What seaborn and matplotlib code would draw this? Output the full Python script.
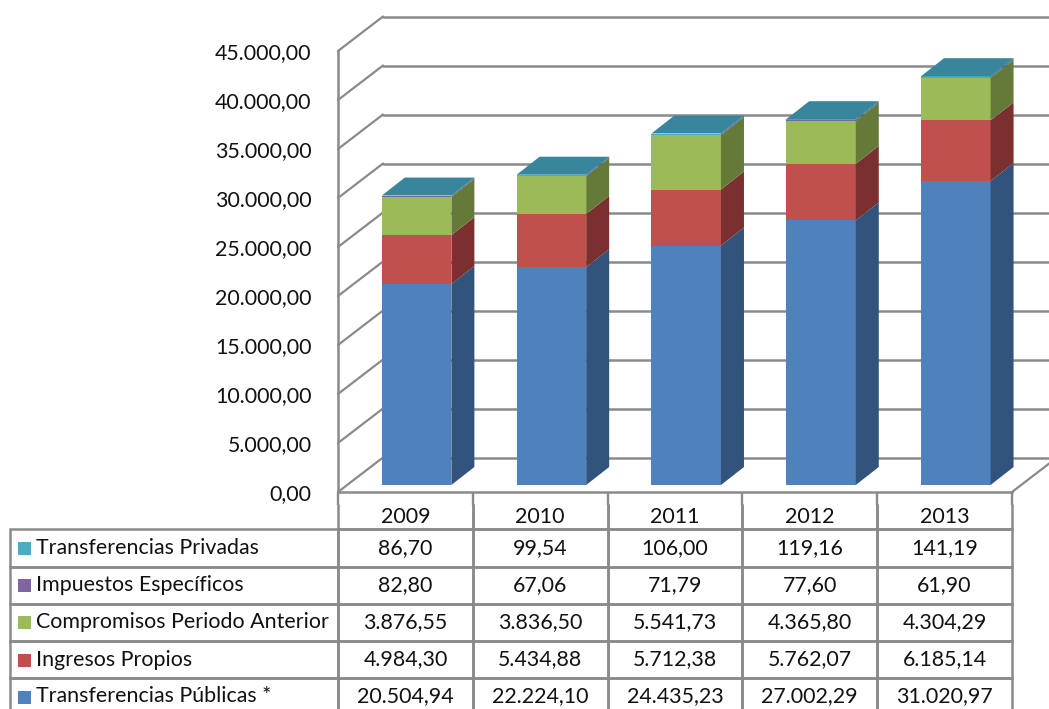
"""Ingresos por fuente 2009-2013: fake 3D stacked bars with a data table below."""
import matplotlib
matplotlib.use('Agg')
import matplotlib.pyplot as plt
import seaborn as sns
from matplotlib.patches import Polygon
from matplotlib.ticker import FuncFormatter
from matplotlib.transforms import Affine2D

years = ['2009', '2010', '2011', '2012', '2013']
publicas = [20504.94, 22224.10, 24435.23, 27002.29, 31020.97]
propios = [4984.30, 5434.88, 5712.38, 5762.07, 6185.14]
compromisos = [3876.55, 3836.50, 5541.73, 4365.80, 4304.29]
impuestos = [82.80, 67.06, 71.79, 77.60, 61.90]
privadas = [86.70, 99.54, 106.00, 119.16, 141.19]
y_ticks = [0, 5000, 10000, 15000, 20000, 25000, 30000, 35000, 40000, 45000]

# bottom to top: name, values, front colour, side colour
stack = [
    ('Transferencias Públicas *', publicas, '#4F81BD', '#32537C'),
    ('Ingresos Propios', propios, '#C0504D', '#7A302E'),
    ('Compromisos Periodo Anterior', compromisos, '#9BBB59', '#657A39'),
    ('Impuestos Específicos', impuestos, '#8064A2', '#53406B'),
    ('Transferencias Privadas', privadas, '#4BACC6', '#31707F'),
]
TOP_COLOR = '#38859C'
LINE = '#8A8A8A'
W, H = 1049, 709
LEFT, RIGHT, ZERO, TOP = 338, 1012, 492, 51  # plot box in image pixels
WALL = (45, 34.5)    # depth of the back wall, px
BAR_FRONT = (11.2, 7)  # bar front plane, shifted from the front of the floor
BAR_DEPTH = (23, 18)
FONT_SIZE = 15.4


def spanish(v, pos=None):
    return f'{v:,.2f}'.replace(',', '#').replace('.', ',').replace('#', '.')


sns.set_theme(style='white')
plt.rcParams['font.family'] = ['Lato', 'DejaVu Sans']

fig = plt.figure(figsize=(W / 100, H / 100), dpi=100)
ax = fig.add_axes([LEFT / W, 1 - ZERO / H, (RIGHT - LEFT) / W, (ZERO - TOP) / H])

bottom = [0.0] * len(years)
for name, values, color, side in stack:
    sns.barplot(x=years, y=values, bottom=bottom, color=color, saturation=1,
                width=0.516, errorbar=None, ax=ax, zorder=4)
    bottom = [b + v for b, v in zip(bottom, values)]

ax.set_xlim(-0.5, 4.5)
ax.set_ylim(0, 45000)
ax.set_yticks(y_ticks)
ax.yaxis.set_major_formatter(FuncFormatter(spanish))
ax.tick_params(axis='y', length=0, pad=19, labelsize=FONT_SIZE, colors='#111111')
ax.set_xticks([])
ax.set_xticks([i - 0.5 for i in range(len(years) + 1)], minor=True)
ax.tick_params(axis='x', which='minor', bottom=True, length=9, width=1.7, color=LINE)
ax.patch.set_visible(False)
sns.despine(ax=ax)
for s in ('left', 'bottom'):
    ax.spines[s].set_color(LINE)
    ax.spines[s].set_linewidth(1.8)

# back wall and its slanted links to the axis
back = ax.transData + Affine2D().translate(*WALL)
for t in y_ticks:
    ax.plot([-0.5, 4.5], [t, t], color=LINE, lw=1.8, transform=back, clip_on=False, zorder=1)
    x0, y0 = ax.transData.transform((-0.5, t))
    ax.plot([x0, x0 + WALL[0]], [y0, y0 + WALL[1]], color=LINE, lw=1.6,
            transform=None, clip_on=False, zorder=1)
x0, y0 = ax.transData.transform((4.5, 0))
ax.plot([x0, x0 + WALL[0]], [y0, y0 + WALL[1]], color=LINE, lw=1.6,
        transform=None, clip_on=False, zorder=1)

# shift the bars onto their plane, then add side and top faces
shift = ax.transData + Affine2D().translate(*BAR_FRONT)
bars = [p for p in ax.patches]
n = len(years)
for i, (name, values, color, side) in enumerate(stack):
    for bar in bars[i * n:(i + 1) * n]:
        bar.set_transform(shift)
        bar.set_clip_on(False)
        bar.set_edgecolor('none')
        xa, ya = shift.transform((bar.get_x(), bar.get_y()))
        xb, yb = shift.transform((bar.get_x() + bar.get_width(), bar.get_y() + bar.get_height()))
        dx, dy = BAR_DEPTH
        fig.add_artist(Polygon([(xb, ya), (xb + dx, ya + dy), (xb + dx, yb + dy), (xb, yb)],
                               closed=True, transform=None, facecolor=side, edgecolor='none',
                               zorder=5))
        if i == len(stack) - 1:
            fig.add_artist(Polygon([(xa, yb), (xb, yb), (xb + dx, yb + dy), (xa + dx, yb + dy)],
                                   closed=True, transform=None, facecolor=TOP_COLOR,
                                   edgecolor='none', zorder=5))

# data table, fifth row runs off the bottom of the image
px_w = RIGHT - LEFT
px_h = ZERO - TOP
table_left = 10
row_tops = [504, 529, 566.5, 603.5, 641, 678, 715]


def ax_x(px):
    return (px - LEFT) / px_w


def ax_y(py):
    return (ZERO - py) / px_h


rows = [[''] + years]
for name, values, color, side in reversed(stack):
    rows.append([name] + [spanish(v) for v in values])

first_w = (LEFT - table_left) / px_w
col_w = 1 / len(years)
table = ax.table(cellText=rows, colWidths=[first_w] + [col_w] * len(years), cellLoc='center',
                 bbox=[ax_x(table_left), ax_y(row_tops[-1]), 1 + first_w,
                       (row_tops[-1] - row_tops[0]) / px_h])
table.auto_set_font_size(False)
table.set_fontsize(FONT_SIZE)
for (r, c), cell in table.get_celld().items():
    cell.set_height((row_tops[r + 1] - row_tops[r]) / px_h)
    cell.set_edgecolor(LINE)
    cell.set_linewidth(1.8)
    cell.set_facecolor('none')
    cell.get_text().set_color('#111111')
    if r == 0:
        cell.visible_edges = 'LRB' if c > 0 else ''
    if c == 0:
        cell._loc = 'left'
        cell.PAD = 26 / (LEFT - table_left)
        cell.get_text().set_horizontalalignment('left')

# colour keys in the first column
for r, (name, values, color, side) in enumerate(reversed(stack), start=1):
    yc = (row_tops[r] + row_tops[r + 1]) / 2
    ax.scatter([ax_x(23.5)], [ax_y(yc)], marker='s', s=(13 * 0.72) ** 2, color=color,
               linewidths=0, transform=ax.transAxes, clip_on=False, zorder=6)

fig.savefig('out.png', dpi=100)
